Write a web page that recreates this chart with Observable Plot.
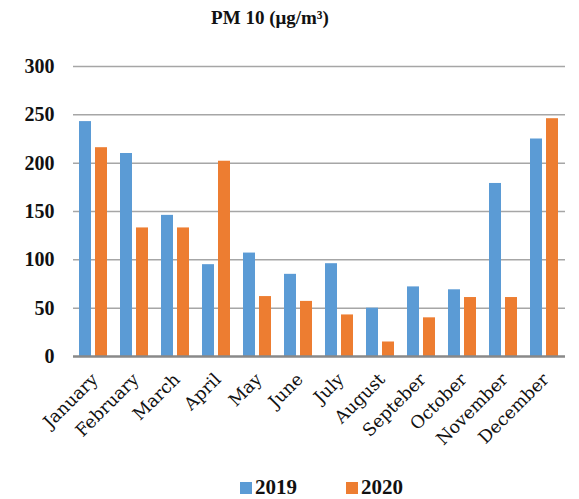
<!DOCTYPE html>
<html>
<head>
<meta charset="utf-8">
<script src="https://cdn.jsdelivr.net/npm/d3@7"></script>
<script src="https://cdn.jsdelivr.net/npm/@observablehq/plot@0.6"></script>
<style>
  body { margin: 0; background: white; font-family: "Liberation Serif", serif; }
  #wrap { position: relative; width: 579px; height: 499px; }
  #title { position: absolute; left: 0; top: 7px; width: 540px; text-align: center; font-weight: bold; font-size: 19px; color: #111; }
  #chart { position: absolute; left: 0; top: 45px; }
  .leg { position: absolute; top: 475px; font-weight: bold; font-size: 21px; color: #111; display: flex; align-items: center; }
  .sw { width: 12px; height: 12px; margin-right: 3px; }
</style>
</head>
<body>
<div id="wrap">
  <div id="title">PM 10 (μg/m³)</div>
  <div id="chart"></div>
  <div class="leg" style="left:240px"><span class="sw" style="background:#5B9BD5"></span>2019</div>
  <div class="leg" style="left:346px"><span class="sw" style="background:#ED7D31"></span>2020</div>
</div>
<script>
const months = ["January","February","March","April","May","June","July","August","Septeber","October","November","December"];
const years = ["2019","2020"];
const v2019 = [243, 210, 146, 95, 107, 85, 96, 50, 72, 69, 179, 225];
const v2020 = [216, 133, 133, 202, 62, 57, 43, 15, 40, 61, 61, 246];
const yTicks = [0, 50, 100, 150, 200, 250, 300];
const colors = ["#5B9BD5", "#ED7D31"];

const data = months.flatMap((m, i) => [
  {month: m, year: years[0], value: v2019[i]},
  {month: m, year: years[1], value: v2020[i]}
]);

const chart = Plot.plot({
  width: 579,
  height: 420,
  marginLeft: 67,
  marginRight: 9,
  marginTop: 21,
  marginBottom: 109,
  style: {fontFamily: "Liberation Serif", background: "white", color: "#111"},
  fx: {domain: months, padding: 0, label: null, axis: null},
  x: {domain: years, paddingInner: 0.22, paddingOuter: 0.318, axis: null},
  y: {domain: [0, 300], label: null},
  color: {domain: years, range: colors},
  marks: [
    Plot.ruleY(yTicks.filter(d => d > 0), {stroke: "#a6a6a6", strokeWidth: 1.5}),
    Plot.barY(data, {fx: "month", x: "year", y: "value", fill: "year"}),
    Plot.ruleY([0], {stroke: "#898989", strokeWidth: 2.5}),
    Plot.axisY({ticks: yTicks, tickSize: 0, tickPadding: 19, fontSize: 20, fontWeight: "bold", label: null}),
    Plot.axisFx({anchor: "bottom", tickRotate: -45, tickSize: 0, tickPadding: 20, fontSize: 17.5, fontFamily: "DejaVu Serif", dx: 1, label: null})
  ]
});
document.getElementById("chart").appendChild(chart);
</script>
</body>
</html>
